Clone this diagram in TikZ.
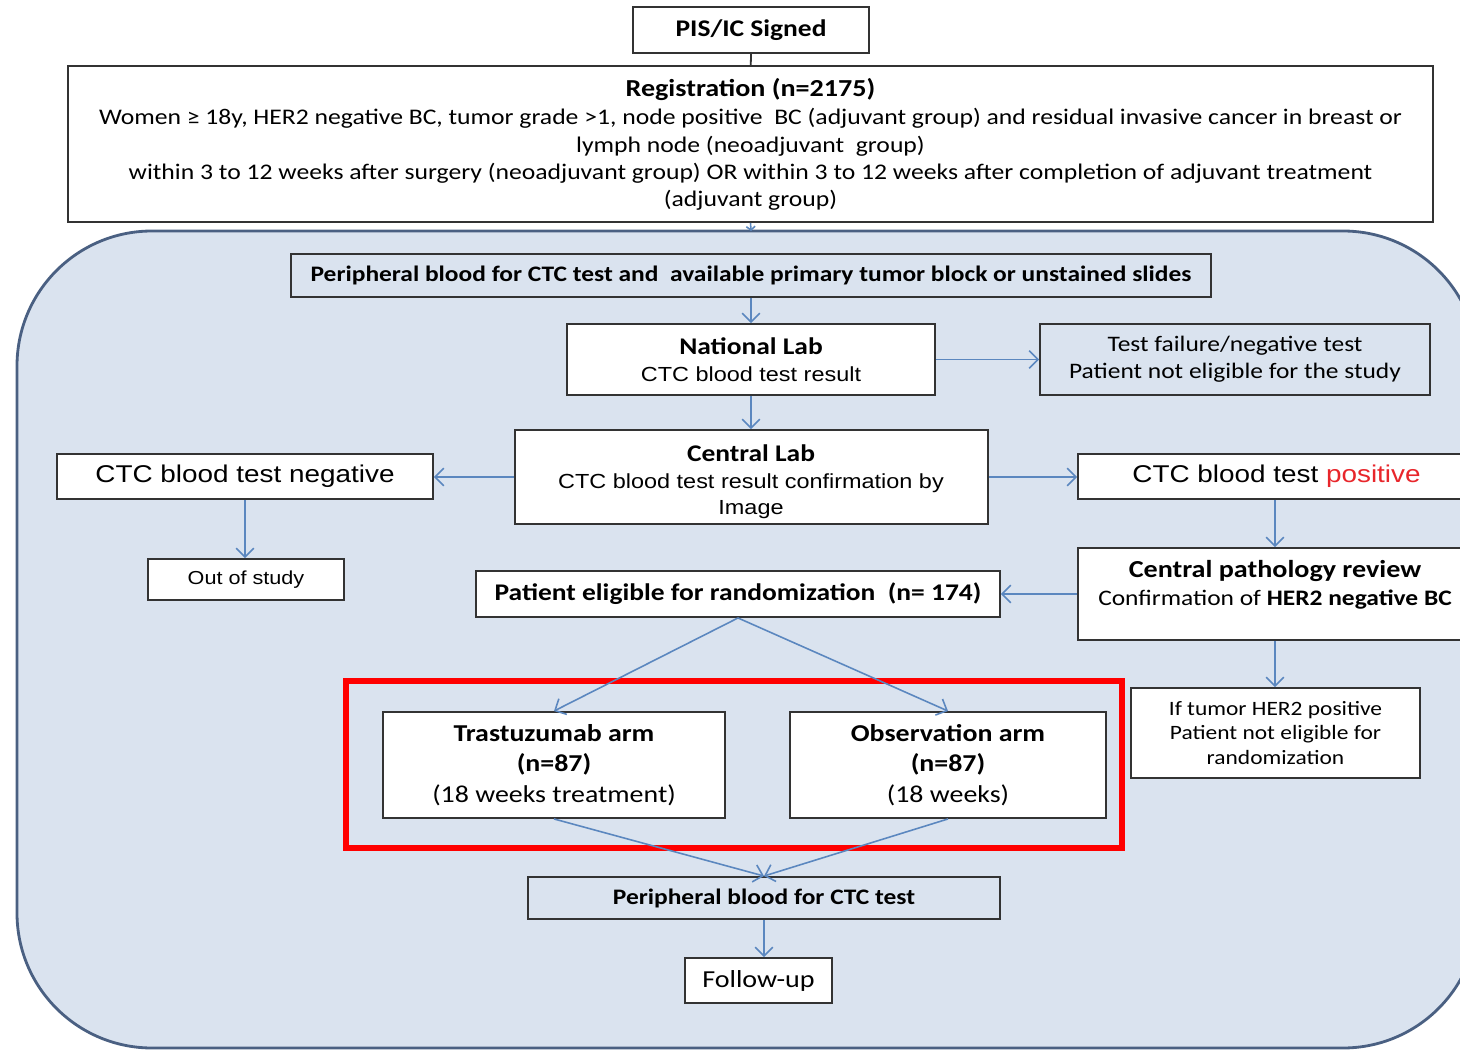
\documentclass[tikz,border=0pt]{standalone}
\usepackage{fontspec}
\setmainfont{Carlito}[FakeStretch=1.15]
\newfontfamily\arialfont{Liberation Sans}[FakeStretch=1.15]
\usetikzlibrary{arrows.meta}

\definecolor{regionblue}{HTML}{DAE3EF}
\definecolor{regionline}{HTML}{4A6082}
\definecolor{arrowblue}{HTML}{5B87BF}
\definecolor{boxline}{HTML}{333333}
\definecolor{posred}{HTML}{E8262B}

\begin{document}
\begin{tikzpicture}[x=0.02cm, y=-0.02cm,
    box/.style={draw=boxline, line width=1.1pt, fill=white, align=center, inner sep=0pt},
    bluebox/.style={box, fill=regionblue},
    arrow/.style={draw=arrowblue, line width=0.9pt, -{Straight Barb[length=5pt,width=10pt]}}]
        \useasboundingbox (0,0) rectangle (1460,1050);
        \clip (0,0) rectangle (1460,1050);

        % Study area
        \draw[draw=regionline, fill=regionblue, line width=1.6pt, rounded corners=2.7cm] (17,231) rectangle (1478,1048);
        \coordinate (areatop) at (751,231);

        % Enrolment
        \node[box, minimum width=4.72cm, minimum height=0.92cm, font=\bfseries\fontsize{13.6}{17}\selectfont] (pis) at (751,30) {PIS/IC Signed};
        \node[box, minimum width=27.3cm, minimum height=3.12cm, font=\fontsize{12.7}{15.4}\selectfont] (reg) at (750.5,144)
            {{\bfseries\fontsize{13.9}{17}\selectfont Registration (n=2175)}\\[1pt]
             Women ≥ 18y, HER2 negative BC, tumor grade >1, node positive\ \ BC (adjuvant group) and residual invasive cancer in breast or\\
             lymph node (neoadjuvant\ \ group)\\
             within 3 to 12 weeks after surgery (neoadjuvant group) OR within 3 to 12 weeks after completion of adjuvant treatment\\
             (adjuvant group)};

        % Screening
        \node[bluebox, minimum width=18.4cm, minimum height=0.86cm, font=\bfseries\fontsize{12.6}{15}\selectfont] (blood1) at (751,275.5)
            {Peripheral blood for CTC test and\ \ available primary tumor block or unstained slides};
        \node[box, minimum width=7.36cm, minimum height=1.42cm, font=\fontsize{13.6}{15.4}\selectfont] (natlab) at (751,359.5)
            {{\bfseries National Lab}\\{\arialfont\fontsize{11.6}{15.4}\selectfont CTC blood test result}};
        \node[bluebox, minimum width=7.8cm, minimum height=1.42cm, font=\fontsize{12.6}{15.4}\selectfont] (fail) at (1235,359.5)
            {Test failure/negative test\\Patient not eligible for the study};
        \node[box, minimum width=9.46cm, minimum height=1.88cm] (cenlab) at (751.5,477) {};
        \node[align=center, font=\fontsize{13.6}{15}\selectfont] (cenlabtxt) at (751,482)
            {{\bfseries Central Lab}\\{\arialfont\fontsize{11.6}{15}\selectfont CTC blood test result confirmation by}\\{\arialfont\fontsize{11.6}{15}\selectfont Image}};

        % CTC result
        \node[box, minimum width=7.52cm, minimum height=0.9cm, font=\arialfont\fontsize{13.8}{17}\selectfont] (neg) at (245,476.5) {CTC blood test negative};
        \node[box, minimum width=7.94cm, minimum height=0.9cm, font=\arialfont\fontsize{13.8}{17}\selectfont] (pos) at (1276.5,476.5)
            {CTC blood test {\color{posred}positive}};
        \node[box, minimum width=3.92cm, minimum height=0.82cm, font=\arialfont\fontsize{10.7}{13}\selectfont] (out) at (246,579.5) {Out of study};
        \node[box, minimum width=7.94cm, minimum height=1.84cm] (path) at (1276.5,594) {};
        \node[align=center, font=\fontsize{12.6}{16}\selectfont] (pathtxt) at (1275,585)
            {{\bfseries\fontsize{13.9}{16}\selectfont Central pathology review}\\Confirmation of \textbf{HER2 negative BC}};
        \node[box, minimum width=5.78cm, minimum height=1.8cm, font=\fontsize{11.6}{14.2}\selectfont] (her2) at (1275.5,733)
            {If tumor HER2 positive\\Patient not eligible for\\randomization};

        % Randomization
        \node[box, minimum width=10.48cm, minimum height=0.92cm, font=\bfseries\fontsize{13.6}{16}\selectfont] (elig) at (738,594)
            {Patient eligible for randomization\ \ (n= 174)};
        \node[box, minimum width=6.84cm, minimum height=2.12cm, font=\fontsize{13.8}{17.4}\selectfont] (trast) at (554,765)
            {\textbf{Trastuzumab arm}\\\textbf{(n=87)}\\(18 weeks treatment)};
        \node[box, minimum width=6.32cm, minimum height=2.12cm, font=\fontsize{13.8}{17.4}\selectfont] (obs) at (948,765)
            {\textbf{Observation arm}\\\textbf{(n=87)}\\(18 weeks)};
        \draw[red, line width=3.4pt] (346,681) rectangle (1122,848);

        % Follow-up
        \node[bluebox, minimum width=9.44cm, minimum height=0.84cm, font=\bfseries\fontsize{12.6}{15}\selectfont] (blood2) at (764,898) {Peripheral blood for CTC test};
        \node[box, minimum width=2.94cm, minimum height=0.9cm, font=\fontsize{13.9}{17}\selectfont] (follow) at (758.5,980.5) {Follow-up};

        % Connectors
        \draw[draw=boxline, line width=1pt] (pis) -- (reg);
        \draw[arrow, -{Straight Barb[length=2pt,width=5pt]}] (reg.south) -- (areatop);
        \draw[arrow] (blood1) -- (natlab);
        \draw[arrow] (natlab) -- (fail);
        \draw[arrow] (natlab.south) -- (natlab.south |- cenlab.north);
        \draw[arrow] (cenlab.west) -- (cenlab.west -| neg.east);
        \draw[arrow] (cenlab.east) -- (cenlab.east -| pos.west);
        \draw[arrow] (neg.south) -- (neg.south |- out.north);
        \draw[arrow] (pos.south -| pathtxt) -- (pathtxt |- path.north);
        \draw[arrow] (path.west) -- (elig.east);
        \draw[arrow] (path.south -| pathtxt) -- (pathtxt |- her2.north);
        \draw[arrow] (elig.south) -- (trast.north);
        \draw[arrow] (elig.south) -- (obs.north);
        \draw[arrow] (trast.south) -- (blood2.north);
        \draw[arrow] (obs.south) -- (blood2.north);
        \draw[arrow] (blood2.south) -- (blood2.south |- follow.north);
    \end{tikzpicture}
\end{document}
